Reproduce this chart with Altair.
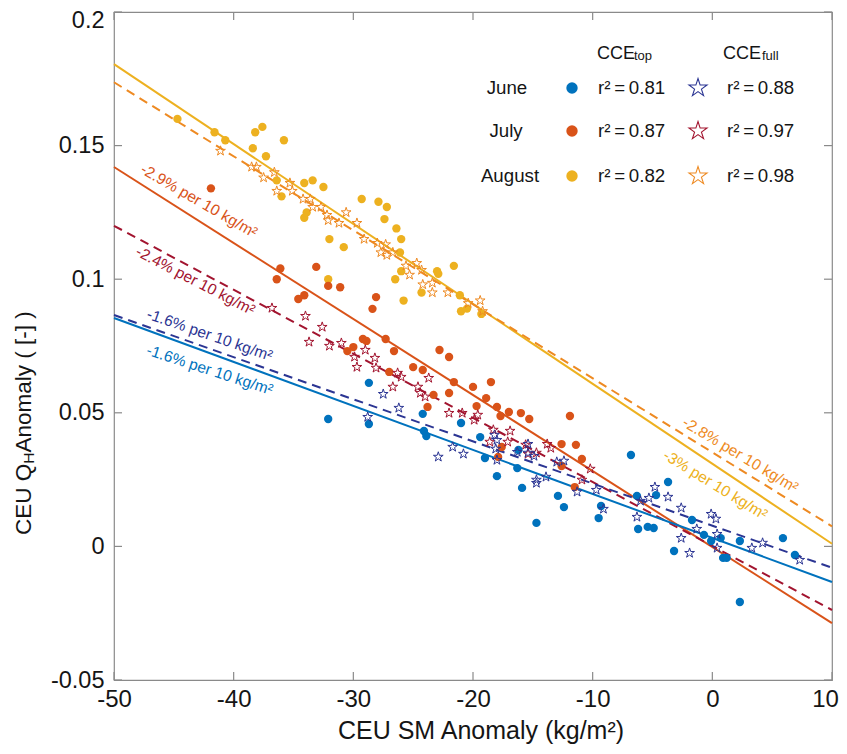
import altair as alt
import pandas as pd

FONT = "Liberation Sans"

# ---------------- data ----------------
# June, CCE_top (filled dots)
jun_top_x = [-28.7, -32.1, -28.7, -24.2, -24.1, -23.9, -21.0, -19.4, -19.0, -18.0, -16.3, -15.9,
             -14.7, -16.2, -12.9, -12.4, -9.3, -9.5, -6.8, -3.7, -6.3, -4.7, -6.2, -5.4, -4.9,
             -3.2, -1.7, -0.7, -0.1, 0.7, 0.9, 1.2, 2.3, 2.3, 5.9, 6.9]
jun_top_y = [0.0612, 0.0477, 0.0458, 0.0496, 0.0432, 0.0413, 0.0462, 0.0409, 0.0331, 0.0263, 0.0293,
             0.0219, 0.0088, 0.0361, 0.0189, 0.0147, 0.0151, 0.0106, 0.0342, 0.0241, 0.0189, 0.0192,
             0.0065, 0.0073, 0.0069, -0.0017, 0.0099, 0.0043, 0.0020, 0.0031, -0.0043, -0.0043,
             0.0020, -0.0208, 0.0031, -0.0032]
# June, CCE_full (open stars)
jun_full_x = [-28.8, -27.5, -26.2, -22.9, -21.7, -20.8, -18.2, -18.0, -18.1, -18.0, -16.3, -15.4,
              -14.9, -15.4, -14.7, -13.9, -14.7, -13.0, -12.4, -11.3, -9.7, -9.1, -6.3, -6.0,
              -5.3, -4.8, -3.7, -2.6, -2.6, -1.9, -1.3, -0.1, 0.3, 0.4, 0.4, 3.3, 4.2, 7.3]
jun_full_y = [0.0484, 0.0570, 0.0518, 0.0335, 0.0372, 0.0346, 0.0417, 0.0398, 0.0365, 0.0323, 0.0353,
              0.0350, 0.0338, 0.0383, 0.0249, 0.0260, 0.0237, 0.0316, 0.0320, 0.0204, 0.0211,
              0.0140, 0.0110, 0.0170, 0.0181, 0.0222, 0.0185, 0.0144, 0.0031, -0.0025, 0.0065,
              0.0121, 0.0103, 0.0046, -0.0006, -0.0006, 0.0013, -0.0051]
# July, CCE_top
jul_top_x = [-41.9, -36.1, -36.4, -33.1, -32.1, -31.1, -34.1, -34.6, -28.1, -28.4, -29.2, -28.9,
             -27.3, -26.6, -30.0, -30.5, -27.0, -25.0, -24.2, -22.8, -22.0, -21.6, -22.0, -23.3,
             -23.8, -20.0, -18.5, -18.9, -19.7, -18.0, -17.7, -17.0, -16.0, -15.3, -11.9, -12.6,
             -11.4, -10.9, -12.6, -11.5, -17.6, -17.9]
jul_top_y = [0.134, 0.104, 0.100, 0.1046, 0.0975, 0.097, 0.094, 0.0926, 0.0933, 0.0889, 0.0776,
             0.0769, 0.0776, 0.0731, 0.0746, 0.0731, 0.0653, 0.0671, 0.066, 0.0735, 0.0709,
             0.0615, 0.0574, 0.0567, 0.0522, 0.0597, 0.0615, 0.0555, 0.0525, 0.0522, 0.0488,
             0.0503, 0.0499, 0.0477, 0.0488, 0.0383, 0.038, 0.0327, 0.0301, 0.0222, 0.0372, 0.0335]
# July, CCE_full
jul_full_x = [-36.8, -34.0, -32.6, -33.7, -32.0, -31.0, -29.0, -29.9, -29.7, -28.2, -28.1, -26.7,
              -26.3, -26.0, -24.6, -24.4, -24.0, -23.7, -22.0, -20.9, -19.6, -19.9, -18.3, -16.9,
              -18.6, -17.1, -15.6, -15.4, -14.7, -13.8, -13.5, -10.2, -10.9]
jul_full_y = [0.0892, 0.0862, 0.0821, 0.0765, 0.075, 0.0761, 0.0735, 0.0709, 0.0671, 0.0705, 0.0668,
              0.0597, 0.0649, 0.0634, 0.0597, 0.0574, 0.056, 0.063, 0.0499, 0.0499, 0.0492, 0.0473,
              0.0436, 0.0432, 0.0391, 0.0391, 0.038, 0.0346, 0.035, 0.0383, 0.0368, 0.029, 0.0249]
# August, CCE_top
aug_top_x = [-44.7, -41.6, -40.7, -38.2, -37.6, -35.8, -38.4, -37.3, -36.4, -36.0, -34.1, -33.4,
             -32.5, -34.1, -33.9, -32.0, -29.3, -27.9, -27.2, -27.4, -26.4, -26.0, -30.8, -26.1,
             -26.0, -26.5, -32.1, -25.8, -23.0, -22.9, -21.6, -24.3, -21.1, -21.0, -20.5, -19.3]
aug_top_y = [0.160, 0.155, 0.152, 0.155, 0.157, 0.152, 0.149, 0.146, 0.137, 0.131, 0.136, 0.137,
             0.1345, 0.123, 0.125, 0.115, 0.130, 0.129, 0.127, 0.1225, 0.119, 0.115, 0.112, 0.110,
             0.103, 0.100, 0.100, 0.092, 0.103, 0.102, 0.105, 0.095, 0.094, 0.088, 0.089, 0.087]
# August, CCE_full
aug_full_x = [-41.1, -38.5, -38.1, -37.5, -36.6, -36.4, -35.3, -35.1, -34.2, -33.6, -33.4, -32.7,
              -32.2, -32.1, -31.2, -30.6, -29.7, -29.1, -28.0, -27.3, -27.7, -27.2, -26.7, -25.6,
              -25.3, -24.7, -24.3, -24.2, -23.4, -23.4, -22.1, -20.4, -19.4, -19.2]
aug_full_y = [0.148, 0.142, 0.142, 0.138, 0.140, 0.133, 0.136, 0.133, 0.130, 0.130, 0.127, 0.127,
              0.124, 0.122, 0.121, 0.125, 0.121, 0.115, 0.1135, 0.113, 0.110, 0.109, 0.110, 0.105,
              0.1016, 0.106, 0.1034, 0.098, 0.0986, 0.095, 0.095, 0.091, 0.092, 0.088]

# regression lines, evaluated at the two ends of the x range
fit_x = [-50, 10]
jun_top_fit = [0.0855, -0.0133]
jun_full_fit = [0.0866, -0.0080]
jul_top_fit = [0.1420, -0.0287]
jul_full_fit = [0.1200, -0.0238]
aug_top_fit = [0.1805, 0.0010]
aug_full_fit = [0.1737, 0.0075]

# slope annotations
ann_text = ["-2.9% per 10 kg/m²", "-2.4% per 10 kg/m²", "-1.6% per 10 kg/m²",
            "-1.6% per 10 kg/m²", "-2.8% per 10 kg/m²", "-3% per 10 kg/m²"]
ann_x = [-42.9, -43.2, -42.0, -42.0, 2.34, 0.25]
ann_y = [0.1293, 0.0994, 0.0791, 0.066, 0.0342, 0.023]
ann_angle = [30, 27.5, 19, 18, 31, 31.5]

months = ["June", "July", "August"]
r2_top = ["0.81", "0.87", "0.82"]
r2_full = ["0.88", "0.97", "0.98"]

x_ticks = [-50, -40, -30, -20, -10, 0, 10]
y_ticks = [-0.05, 0, 0.05, 0.1, 0.15, 0.2]

# ---------------- styling ----------------
C_JUN_TOP, C_JUN_FULL = "#0072BD", "#2B3593"
C_JUL_TOP, C_JUL_FULL = "#D95319", "#A2142F"
C_AUG_TOP, C_AUG_FULL = "#EDB120", "#EE8A22"
FRAME = "#8a8a8a"
TXT = "#151515"
W, H = 718, 668
STAR = ("M0,-1L0.2245,-0.309L0.9511,-0.309L0.3633,0.118L0.5878,0.809L0,0.382"
        "L-0.5878,0.809L-0.3633,0.118L-0.9511,-0.309L-0.2245,-0.309Z")

xscale = alt.Scale(domain=[-50, 10], nice=False, zero=False)
yscale = alt.Scale(domain=[-0.05, 0.2], nice=False, zero=False)
xaxis = alt.Axis(values=x_ticks, labelExpr="'' + datum.value", domain=False, ticks=False,
                 grid=False, labelFontSize=24, labelFont=FONT, labelColor=TXT,
                 labelPadding=7, labelFlush=False, title=None, orient="bottom",
                 labelOffset={"condition": {"test": "datum.value >= 9", "value": -7},
                              "value": 0})
yaxis = alt.Axis(values=y_ticks, labelExpr="'' + datum.value", domain=False, ticks=False,
                 grid=False, labelFontSize=23.5, labelFont=FONT, labelColor=TXT,
                 labelPadding=10, labelFlush=False, title=None, orient="left",
                 labelOffset={"condition": {"test": "datum.value >= 0.19", "value": 8},
                              "value": 0})


def X(field):
    return alt.X(field, type="quantitative", scale=xscale, axis=xaxis)


def Y(field):
    return alt.Y(field, type="quantitative", scale=yscale, axis=yaxis)


def dots(xs, ys, color):
    df = pd.DataFrame({"x": xs, "y": ys})
    return alt.Chart(df).mark_point(shape="circle", filled=True, opacity=1, size=70,
                                    color=color).encode(x=X("x"), y=Y("y"))


def stars(xs, ys, color):
    df = pd.DataFrame({"x": xs, "y": ys})
    return alt.Chart(df).mark_point(shape=STAR, filled=False, opacity=1, size=105,
                                    strokeWidth=1.0, color=color).encode(x=X("x"), y=Y("y"))


def fit(ys, color, dashed):
    df = pd.DataFrame({"x": fit_x, "y": ys})
    kw = {"strokeDash": [9, 6]} if dashed else {}
    return alt.Chart(df).mark_line(color=color, strokeWidth=2, **kw).encode(x=X("x"), y=Y("y"))


def label(text, px, py, size, color=TXT, align="left", baseline="middle", angle=0):
    df = pd.DataFrame({"t": [text]})
    kw = {"angle": angle} if angle else {}
    return alt.Chart(df).mark_text(font=FONT, fontSize=size, color=color, align=align,
                                   baseline=baseline, **kw).encode(
        text="t:N", x=alt.value(px), y=alt.value(py))


def sym(shape, filled, color, px, py, size):
    df = pd.DataFrame({"t": [0]})
    return alt.Chart(df).mark_point(shape=shape, filled=filled, opacity=1, size=size,
                                    strokeWidth=1.1, color=color).encode(
        x=alt.value(px), y=alt.value(py))


layers = []

# fit lines
layers += [fit(aug_top_fit, C_AUG_TOP, False), fit(aug_full_fit, C_AUG_FULL, True),
           fit(jul_top_fit, C_JUL_TOP, False), fit(jul_full_fit, C_JUL_FULL, True),
           fit(jun_top_fit, C_JUN_TOP, False), fit(jun_full_fit, C_JUN_FULL, True)]

# frame ticks (inward) on all four sides
tx = pd.DataFrame({"v": x_ticks})
ty = pd.DataFrame({"v": y_ticks})
layers.append(alt.Chart(tx).mark_rule(color=FRAME, strokeWidth=1.2).encode(
    x=X("v"), y=alt.value(H), y2=alt.value(H - 8)))
layers.append(alt.Chart(tx).mark_rule(color=FRAME, strokeWidth=1.2).encode(
    x=X("v"), y=alt.value(0), y2=alt.value(8)))
layers.append(alt.Chart(ty).mark_rule(color=FRAME, strokeWidth=1.2).encode(
    y=Y("v"), x=alt.value(0), x2=alt.value(8)))
layers.append(alt.Chart(ty).mark_rule(color=FRAME, strokeWidth=1.2).encode(
    y=Y("v"), x=alt.value(W), x2=alt.value(W - 8)))

# scatter
layers += [dots(aug_top_x, aug_top_y, C_AUG_TOP), stars(aug_full_x, aug_full_y, C_AUG_FULL),
           dots(jul_top_x, jul_top_y, C_JUL_TOP), stars(jul_full_x, jul_full_y, C_JUL_FULL),
           dots(jun_top_x, jun_top_y, C_JUN_TOP), stars(jun_full_x, jun_full_y, C_JUN_FULL)]

# slope annotations
ann_colors = [C_JUL_TOP, C_JUL_FULL, C_JUN_FULL, C_JUN_TOP, C_AUG_FULL, C_AUG_TOP]
for t, ax_, ay_, ang, col in zip(ann_text, ann_x, ann_y, ann_angle, ann_colors):
    df = pd.DataFrame({"t": [t], "x": [ax_], "y": [ay_]})
    layers.append(alt.Chart(df).mark_text(font=FONT, fontSize=15.5, color=col, angle=ang,
                                          align="center", baseline="middle").encode(
        text="t:N", x=X("x"), y=Y("y")))

# legend
layers.append(label("CCE", 483, 47, 18, baseline="alphabetic"))
layers.append(label("top", 520, 48, 13, baseline="alphabetic"))
layers.append(label("CCE", 609, 47, 18, baseline="alphabetic"))
layers.append(label("full", 648, 48, 13, baseline="alphabetic"))
row_y = [76, 119, 164]
row_cx = [393, 392, 396]
top_cols = [C_JUN_TOP, C_JUL_TOP, C_AUG_TOP]
full_cols = [C_JUN_FULL, C_JUL_FULL, C_AUG_FULL]
for m, ry, cx, rt, rf, ct, cf in zip(months, row_y, row_cx, r2_top, r2_full, top_cols, full_cols):
    layers.append(label(m, cx, ry, 18.7, align="center"))
    layers.append(sym("circle", True, ct, 458, ry, 130))
    layers.append(label("r²\u2009=\u2009" + rt, 484, ry, 18.7))
    layers.append(sym(STAR, False, cf, 584, ry, 360))
    layers.append(label("r²\u2009=\u2009" + rf, 613, ry, 18.7))

# x-axis title
layers.append(label("CEU SM Anomaly (kg/m²)", 367, 727, 25, align="center",
                    baseline="alphabetic"))

# y-axis title with subscript H (rotated, reading upwards)
YT, YS = 22.5, 15.5
y0 = 523
w1 = 3.167 * YT          # advance of "CEU Q"
w2 = 0.722 * YS          # advance of small "H"
layers.append(label("CEU Q", -83, y0, YT, align="left", baseline="alphabetic", angle=270))
layers.append(label("H", -80, y0 - w1, YS, align="left", baseline="alphabetic", angle=270))
layers.append(label(" Anomaly ( [-] )", -83, y0 - w1 - w2, YT, align="left",
                    baseline="alphabetic", angle=270))

chart = alt.layer(*layers).properties(
    width=W, height=H,
    autosize=alt.AutoSizeParams(type="none"),
    padding={"left": 106, "top": 4, "right": 7, "bottom": 66},
    background="white",
).configure_view(stroke=FRAME, strokeWidth=1.2)

chart.save("out.html", embed_options={"renderer": "svg", "actions": False})
